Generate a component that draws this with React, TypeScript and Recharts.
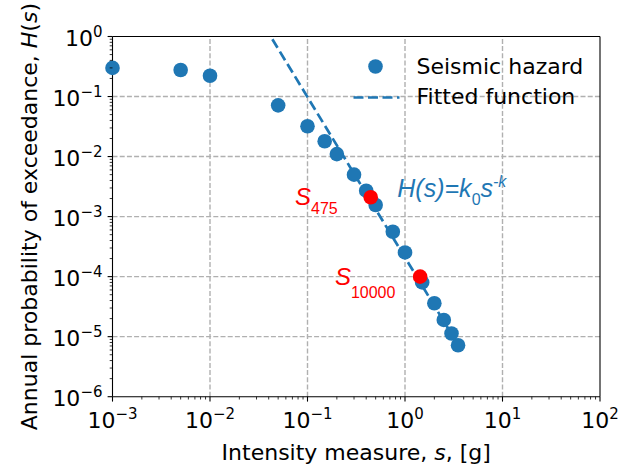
import {
  ComposedChart,
  Scatter,
  Line,
  XAxis,
  YAxis,
  ReferenceLine,
  ReferenceDot,
  Legend,
} from "recharts";

const BLUE = "#1f77b4";
const RED = "#ff0000";
const GRID = "#b0b0b0";
const SANS = "'DejaVu Sans', sans-serif";
const ARIAL = "'Liberation Sans', Arial, sans-serif";

// seismic hazard curve
const intensity = [0.001, 0.005, 0.01, 0.05, 0.1, 0.15, 0.2, 0.3, 0.4, 0.5, 0.75, 1.0, 1.5, 2, 2.5, 3, 3.5];
const hazard = [0.3, 0.277, 0.222, 0.0713, 0.032, 0.018, 0.011, 0.005, 0.0027, 0.00156, 0.00056, 0.000253, 8e-5, 3.6e-5, 1.9e-5, 1.13e-5, 7.2e-6];

// fitted power law, drawn between its end points
const fitS = [0.0436, 3.6];
const fitH = [0.9, 6.8e-6];

// S475 / S10000 marks
const markS = [0.445, 1.43];
const markH = [0.0021, 1e-4];

const xDecades = [1e-3, 1e-2, 1e-1, 1, 10, 100];
const yDecades = [1e-6, 1e-5, 1e-4, 1e-3, 1e-2, 1e-1, 1];

const minors = (dec: number[]) =>
  dec.slice(0, -1).flatMap((d) => [2, 3, 4, 5, 6, 7, 8, 9].map((m) => m * d));

const xTicks = [...xDecades, ...minors(xDecades)].sort((a, b) => a - b);
const yTicks = [...yDecades, ...minors(yDecades)].sort((a, b) => a - b);

const hazardData = intensity.map((s, i) => ({ s, h: hazard[i] }));
const fitData = fitS.map((s, i) => ({ s, h: fitH[i] }));
const markData = markS.map((s, i) => ({ s, h: markH[i] }));

const expOf = (v: number) => {
  const e = Math.log10(v);
  return Math.abs(e - Math.round(e)) < 1e-6 ? Math.round(e) : null;
};
const expText = (e: number) => (e < 0 ? "\u2212" + -e : String(e));

function XTick(props: any) {
  const { x, y, payload } = props;
  const e = expOf(payload.value);
  const major = e !== null;
  return (
    <g>
      <line x1={x} x2={x} y1={y} y2={y + (major ? 4.9 : 2.8)} stroke="#000" strokeWidth={major ? 1.1 : 0.8} />
      {major && (
        <text x={x} y={y + 31.5} textAnchor="middle" fontFamily={SANS} fontSize={22} fill="#000">
          <tspan>10</tspan>
          <tspan dy={-9} fontSize={15}>{expText(e as number)}</tspan>
        </text>
      )}
    </g>
  );
}

function YTick(props: any) {
  const { x, y, payload } = props;
  const e = expOf(payload.value);
  const major = e !== null;
  return (
    <g>
      <line x1={x} x2={x - (major ? 4.9 : 2.8)} y1={y} y2={y} stroke="#000" strokeWidth={major ? 1.1 : 0.8} />
      {major && (
        <text x={x - 10} y={y + 9} textAnchor="end" fontFamily={SANS} fontSize={22} fill="#000">
          <tspan>10</tspan>
          <tspan dy={-9} fontSize={15}>{expText(e as number)}</tspan>
        </text>
      )}
    </g>
  );
}

const dot = (color: string) => (p: any) => <circle cx={p.cx} cy={p.cy} r={7.3} fill={color} />;

function LegendBox() {
  return (
    <svg width={634} height={468} style={{ overflow: "visible" }}>
      <circle cx={375.5} cy={66.5} r={7.3} fill={BLUE} />
      <text x={416.5} y={73.5} fontFamily={SANS} fontSize={22} fill="#000">Seismic hazard</text>
      <line x1={353.5} x2={399.5} y1={97.5} y2={97.5} stroke={BLUE} strokeWidth={2.7} strokeDasharray="10 4.5" />
      <text x={416.5} y={104} fontFamily={SANS} fontSize={22} fill="#000">Fitted function</text>
    </svg>
  );
}

export default function App() {
  return (
    <div style={{ position: "absolute", left: 0, top: 0 }}>
      <ComposedChart width={634} height={468} margin={{ top: 36.5, right: 34, bottom: 0, left: 0 }}>
        <XAxis
          dataKey="s"
          type="number"
          scale="log"
          domain={[1e-3, 100]}
          ticks={xTicks}
          interval={0}
          height={71.3}
          tickSize={0}
          tickMargin={0}
          tickLine={false}
          tick={<XTick />}
          axisLine={{ stroke: "#000", strokeWidth: 1.1 }}
          label={{
            content: (p: any) => {
              const vb = p.viewBox;
              return (
                <text x={vb.x + vb.width / 2} y={vb.y + 63.3} textAnchor="middle" fontFamily={SANS} fontSize={22} fill="#000">
                  Intensity measure, <tspan fontStyle="italic">s</tspan>, [g]
                </text>
              );
            },
          }}
        />
        <YAxis
          dataKey="h"
          type="number"
          scale="log"
          domain={[1e-6, 1]}
          ticks={yTicks}
          interval={0}
          width={112.5}
          tickSize={0}
          tickMargin={0}
          tickLine={false}
          tick={<YTick />}
          axisLine={{ stroke: "#000", strokeWidth: 1.1 }}
          label={{
            content: (p: any) => {
              const vb = p.viewBox;
              const cy = vb.y + vb.height / 2;
              return (
                <text
                  x={37.5}
                  y={cy}
                  transform={`rotate(-90, 37.5, ${cy})`}
                  textAnchor="middle"
                  fontFamily={SANS}
                  fontSize={22}
                  fill="#000"
                >
                  Annual probability of exceedance, <tspan fontStyle="italic">H</tspan>(<tspan fontStyle="italic">s</tspan>)
                </text>
              );
            },
          }}
        />
        {xDecades.slice(1, -1).map((v) => (
          <ReferenceLine key={"gx" + v} x={v} stroke={GRID} strokeWidth={1.4} strokeDasharray="5 2.2" />
        ))}
        {yDecades.slice(1, -1).map((v) => (
          <ReferenceLine key={"gy" + v} y={v} stroke={GRID} strokeWidth={1.4} strokeDasharray="5 2.2" />
        ))}
        <ReferenceLine y={1} stroke="#000" strokeWidth={1.1} />
        <ReferenceLine x={100} stroke="#000" strokeWidth={1.1} />
        <Scatter name="Seismic hazard" data={hazardData} fill={BLUE} shape={dot(BLUE)} isAnimationActive={false} />
        <Scatter name="marks" data={markData} fill={RED} shape={dot(RED)} isAnimationActive={false} legendType="none" />
        <Line
          name="Fitted function"
          data={fitData}
          dataKey="h"
          stroke={BLUE}
          strokeWidth={2.7}
          strokeDasharray="10 4.5"
          dot={false}
          isAnimationActive={false}
        />
        <ReferenceDot
          x={0.0745}
          y={0.001555}
          r={0}
          shape={(p: any) => (
            <text x={p.cx} y={p.cy} fontFamily={ARIAL} fontSize={24} fill={RED}>
              <tspan fontStyle="italic">S</tspan>
              <tspan dy={9.3} fontSize={16}>475</tspan>
            </text>
          )}
        />
        <ReferenceDot
          x={0.191}
          y={7.2e-5}
          r={0}
          shape={(p: any) => (
            <text x={p.cx} y={p.cy} fontFamily={ARIAL} fontSize={24} fill={RED}>
              <tspan fontStyle="italic">S</tspan>
              <tspan dy={13.3} fontSize={16}>10000</tspan>
            </text>
          )}
        />
        <ReferenceDot
          x={0.834}
          y={0.00209}
          r={0}
          shape={(p: any) => (
            <text x={p.cx} y={p.cy} fontFamily={ARIAL} fontSize={25} fill={BLUE} fontStyle="italic">
              <tspan>H(s)=k</tspan>
              <tspan dy={8} fontSize={16} fontStyle="normal">0</tspan>
              <tspan dy={-8}>s</tspan>
              <tspan dy={-10.6} fontSize={16}>-k</tspan>
            </text>
          )}
        />
        <Legend
          layout="horizontal"
          verticalAlign="middle"
          align="center"
          wrapperStyle={{ position: "absolute", left: 0, top: 0, width: 634, height: 468, pointerEvents: "none" }}
          content={() => <LegendBox />}
        />
      </ComposedChart>
    </div>
  );
}
